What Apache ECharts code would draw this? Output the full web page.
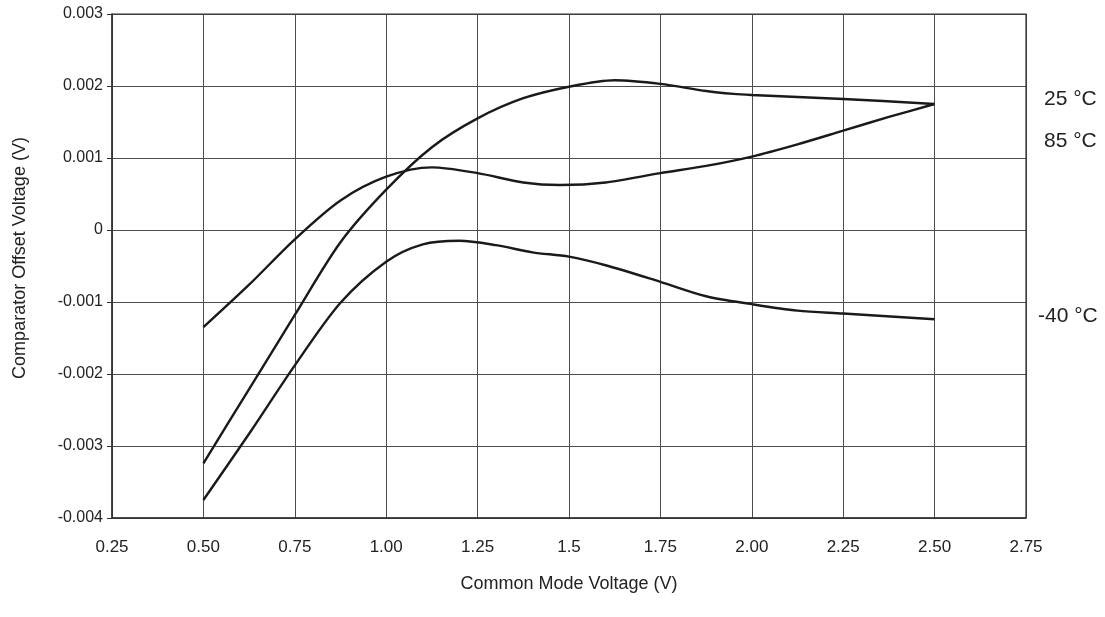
<!DOCTYPE html>
<html>
<head>
<meta charset="utf-8">
<style>
html,body{margin:0;padding:0;background:#fff;}
#chart{width:1105px;height:617px;}
</style>
<script src="https://cdn.jsdelivr.net/npm/echarts@6/dist/echarts.min.js"></script>
</head>
<body>
<div id="chart"></div>
<script>
// X tick labels (as printed) and Y tick labels
const xTickLabels = ['0.25','0.50','0.75','1.00','1.25','1.5','1.75','2.00','2.25','2.50','2.75'];
const yTickLabels = ['-0.004','-0.003','-0.002','-0.001','0','0.001','0.002','0.003'];

// Curve 25 °C
const x25 = [0.50,0.625,0.75,0.875,1.00,1.125,1.25,1.375,1.50,1.625,1.75,1.875,1.95,2.00,2.25,2.50];
const y25 = [-0.00324,-0.00221,-0.00118,-0.00017,0.00056,0.00115,0.00155,0.00183,0.00199,0.00208,0.00203,0.00193,0.00189,0.001875,0.00182,0.00175];

// Curve 85 °C
const x85 = [0.50,0.625,0.75,0.875,1.00,1.125,1.25,1.375,1.475,1.60,1.75,1.875,2.00,2.125,2.25,2.375,2.50];
const y85 = [-0.00135,-0.00076,-0.00013,0.00041,0.00074,0.00087,0.00079,0.00066,0.000625,0.00066,0.00079,0.00089,0.00102,0.00119,0.00138,0.00157,0.00175];

// Curve -40 °C
const xM40 = [0.50,0.625,0.75,0.875,1.00,1.10,1.20,1.30,1.40,1.50,1.60,1.75,1.875,2.00,2.125,2.25,2.50];
const yM40 = [-0.00375,-0.00283,-0.00188,-0.00101,-0.00044,-0.00020,-0.00015,-0.00021,-0.00031,-0.00037,-0.00049,-0.00072,-0.00092,-0.00103,-0.00112,-0.00116,-0.00124];

const curveNames = ['25 °C','85 °C','-40 °C'];

const FONT = '"Liberation Sans", Arial, Helvetica, sans-serif';
const X_MIN = 0.25, X_INT = 0.25, Y_MIN = -0.004, Y_INT = 0.001;

function pairs(xs, ys){ return xs.map((x,i)=>[x, ys[i]]); }

const chart = echarts.init(document.getElementById('chart'), null, {renderer:'canvas'});

const lineStyle = {color:'#1a1a1a', width:2.4};
function mkSeries(name, xs, ys){
  return {
    name: name, type:'line', data: pairs(xs, ys), smooth: 0.3,
    showSymbol:false, symbol:'none', lineStyle: lineStyle, z: 5,
    animation:false
  };
}

chart.setOption({
  animation:false,
  backgroundColor:'#fff',
  grid:{left:112, right:79, top:14, bottom:99, containLabel:false, outerBoundsMode:'none'},
  xAxis:{
    type:'value', min:0.25, max:2.75, interval:0.25,
    name:'Common Mode Voltage (V)', nameLocation:'middle', nameGap:57,
    nameTextStyle:{fontFamily:FONT, fontSize:18, color:'#222'},
    axisLine:{show:true, onZero:false, lineStyle:{color:'#333', width:1.5}},
    axisTick:{show:false},
    axisLabel:{
      margin:21, fontFamily:FONT, fontSize:17, color:'#222',
      formatter:(v)=>xTickLabels[Math.round((v - X_MIN)/X_INT)] ?? ''
    },
    splitLine:{show:true, lineStyle:{color:'#4d4d4d', width:1}}
  },
  yAxis:{
    type:'value', min:-0.004, max:0.003, interval:0.001,
    axisLine:{show:true, onZero:false, lineStyle:{color:'#333', width:1.5}},
    axisTick:{show:true, length:5, lineStyle:{color:'#333', width:1}},
    axisLabel:{
      margin:9, fontFamily:FONT, fontSize:16, color:'#222',
      formatter:(v)=>yTickLabels[Math.round((v - Y_MIN)/Y_INT)] ?? ''
    },
    splitLine:{show:true, lineStyle:{color:'#4d4d4d', width:1}}
  },
  graphic:[
    {type:'rect', shape:{x:112, y:14, width:914, height:504}, style:{fill:'none', stroke:'#333', lineWidth:1.2}, z:2, silent:true},
    {type:'text', x:20, y:258, rotation:Math.PI/2,
     style:{text:'Comparator Offset Voltage (V)', fontFamily:FONT, fontSize:18, fill:'#222', textAlign:'center', textVerticalAlign:'middle'}},
    {type:'text', x:1044, y:99, style:{text:curveNames[0], fontFamily:FONT, fontSize:21, fill:'#222', textAlign:'left', textVerticalAlign:'middle'}},
    {type:'text', x:1044, y:141, style:{text:curveNames[1], fontFamily:FONT, fontSize:21, fill:'#222', textAlign:'left', textVerticalAlign:'middle'}},
    {type:'text', x:1038, y:316, style:{text:curveNames[2], fontFamily:FONT, fontSize:21, fill:'#222', textAlign:'left', textVerticalAlign:'middle'}}
  ],
  series:[
    mkSeries(curveNames[0], x25, y25),
    mkSeries(curveNames[1], x85, y85),
    mkSeries(curveNames[2], xM40, yM40)
  ]
});
</script>
</body>
</html>
